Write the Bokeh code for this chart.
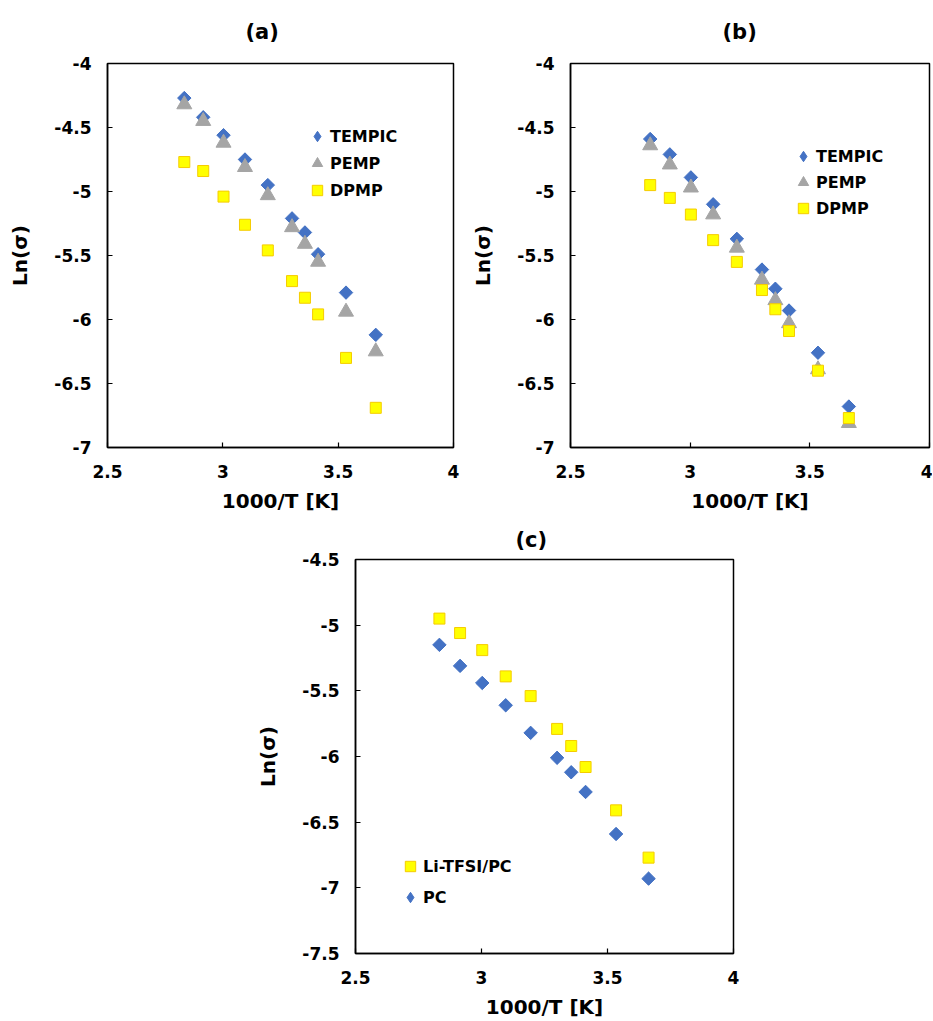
import numpy as np
from bokeh.plotting import figure
from bokeh.models import Legend, LegendItem, Spacer, FixedTicker
from bokeh.layouts import row, column
from bokeh.embed import file_html
from bokeh.resources import INLINE

# ---- data ----
inv_T = [2.833, 2.915, 3.003, 3.096, 3.195, 3.300, 3.356, 3.413, 3.534, 3.663]

a_tempic = [-4.27, -4.42, -4.56, -4.75, -4.95, -5.21, -5.32, -5.49, -5.79, -6.12]
a_pemp = [-4.32, -4.45, -4.62, -4.81, -5.03, -5.28, -5.41, -5.55, -5.94, -6.25]
a_dpmp = [-4.77, -4.84, -5.04, -5.26, -5.46, -5.70, -5.83, -5.96, -6.30, -6.69]

b_tempic = [-4.59, -4.71, -4.89, -5.10, -5.37, -5.61, -5.76, -5.93, -6.26, -6.68]
b_pemp = [-4.64, -4.79, -4.97, -5.18, -5.44, -5.69, -5.85, -6.03, -6.39, -6.81]
b_dpmp = [-4.95, -5.05, -5.18, -5.38, -5.55, -5.77, -5.92, -6.09, -6.40, -6.77]

c_litfsi = [-4.95, -5.06, -5.19, -5.39, -5.54, -5.79, -5.92, -6.08, -6.41, -6.77]
c_pc = [-5.15, -5.31, -5.44, -5.61, -5.82, -6.01, -6.12, -6.27, -6.59, -6.93]

x_ticks = [2.5, 3, 3.5, 4]
x_tick_labels = ["2.5", "3", "3.5", "4"]
y_ticks_ab = [-7, -6.5, -6, -5.5, -5, -4.5, -4]
y_tick_labels_ab = ["-7", "-6.5", "-6", "-5.5", "-5", "-4.5", "-4"]
y_ticks_c = [-7.5, -7, -6.5, -6, -5.5, -5, -4.5]
y_tick_labels_c = ["-7.5", "-7", "-6.5", "-6", "-5.5", "-5", "-4.5"]

BLUE = "#4472C4"
GRAY = "#A5A5A5"
YELLOW = "#FFFF00"
YELLOW_EDGE = "#F5CC00"
FONT = "DejaVu Sans"


def make_fig(title, width, height, bl, br, bt, bb, yr, yt, ytl, t_off, t_stand):
    p = figure(width=width, height=height, x_range=(2.5, 4), y_range=yr,
               output_backend="svg", toolbar_location=None,
               min_border_left=bl, min_border_right=br,
               min_border_top=bt, min_border_bottom=bb)
    p.title.text = title
    p.title.text_font = FONT
    p.title.text_font_size = "21px"
    p.title.text_font_style = "bold"
    p.title.text_color = "black"
    p.title.align = "left"
    p.title.vertical_align = "top"
    p.title.offset = t_off
    p.title.standoff = t_stand
    p.grid.visible = False
    p.outline_line_color = "black"
    p.outline_line_width = 1.5
    p.xaxis.ticker = FixedTicker(ticks=x_ticks)
    p.xaxis.major_label_overrides = dict(zip(x_ticks, x_tick_labels))
    p.yaxis.ticker = FixedTicker(ticks=yt)
    p.yaxis.major_label_overrides = dict(zip(yt, ytl))
    p.xaxis.axis_label = "1000/T [K]"
    p.yaxis.axis_label = "Ln(σ)"
    for ax in (p.xaxis[0], p.yaxis[0]):
        ax.axis_line_color = "black"
        ax.axis_line_width = 1.5
        ax.major_tick_line_color = "black"
        ax.major_tick_line_width = 1.2
        ax.major_tick_in = 5
        ax.major_tick_out = 0
        ax.minor_tick_line_color = None
        ax.major_label_text_font = FONT
        ax.major_label_text_font_size = "17px"
        ax.major_label_text_font_style = "bold"
        ax.major_label_text_color = "black"
        ax.axis_label_text_font = FONT
        ax.axis_label_text_font_size = "20px"
        ax.axis_label_text_font_style = "bold"
        ax.axis_label_text_color = "black"
    p.xaxis.major_label_standoff = 17
    p.xaxis.axis_label_standoff = 8
    p.yaxis.major_label_standoff = 16
    p.yaxis.axis_label_standoff = 19
    return p


def add_legend(p, items, loc, spacing):
    leg = Legend(items=[LegendItem(label=l, renderers=[r]) for l, r in items],
                 location=loc, border_line_color=None, background_fill_alpha=0,
                 padding=0, margin=0, spacing=spacing, glyph_width=26, glyph_height=26,
                 label_standoff=0, label_height=20,
                 label_text_font=FONT, label_text_font_size="16px",
                 label_text_font_style="bold", label_text_color="black")
    p.add_layout(leg)


def diamonds(p, y, color=BLUE):
    # narrow diamond (used for the legend, since legend glyphs are never rotated),
    # covered by a square-shaped diamond (rotated square) on the same data
    r = p.scatter(inv_T, y, marker="diamond", size=12, fill_color=color, line_color=color)
    p.scatter(inv_T, y, marker="square", angle=np.pi / 4, size=9.5,
              fill_color=color, line_color=color)
    return r


def triangles(p, y):
    return p.scatter(inv_T, y, marker="triangle", size=15,
                     fill_color=GRAY, line_color=GRAY)


def squares(p, y):
    return p.scatter(inv_T, y, marker="square", size=11,
                     fill_color=YELLOW, line_color=YELLOW_EDGE, line_width=1)


# ---- panel (a) ----
pa = make_fig("(a)", 467, 520, 107, 14, 63, 73, (-7, -4), y_ticks_ab, y_tick_labels_ab, 138, 35)
ra1 = diamonds(pa, a_tempic)
ra2 = triangles(pa, a_pemp)
ra3 = squares(pa, a_dpmp)
add_legend(pa, [("TEMPIC", ra1), ("PEMP", ra2), ("DPMP", ra3)], (197, 244), 1)

# ---- panel (b) ----
pb = make_fig("(b)", 465, 520, 103, 3, 63, 70, (-7, -4), y_ticks_ab, y_tick_labels_ab, 152, 35)
rb1 = diamonds(pb, b_tempic)
rb2 = triangles(pb, b_pemp)
rb3 = squares(pb, b_dpmp)
add_legend(pb, [("TEMPIC", rb1), ("PEMP", rb2), ("DPMP", rb3)], (220, 226), 0)

# ---- panel (c) ----
pc = make_fig("(c)", 490, 501, 100, 10, 39, 68, (-7.5, -4.5), y_ticks_c, y_tick_labels_c, 160, 12)
rc1 = squares(pc, c_litfsi)
rc2 = diamonds(pc, c_pc)
add_legend(pc, [("Li-TFSI/PC", rc1), ("PC", rc2)], (42, 43), 5)

layout = column(row(pa, pb), row(Spacer(width=253, height=501), pc))

open("out.html", "w").write(file_html(layout, INLINE))
